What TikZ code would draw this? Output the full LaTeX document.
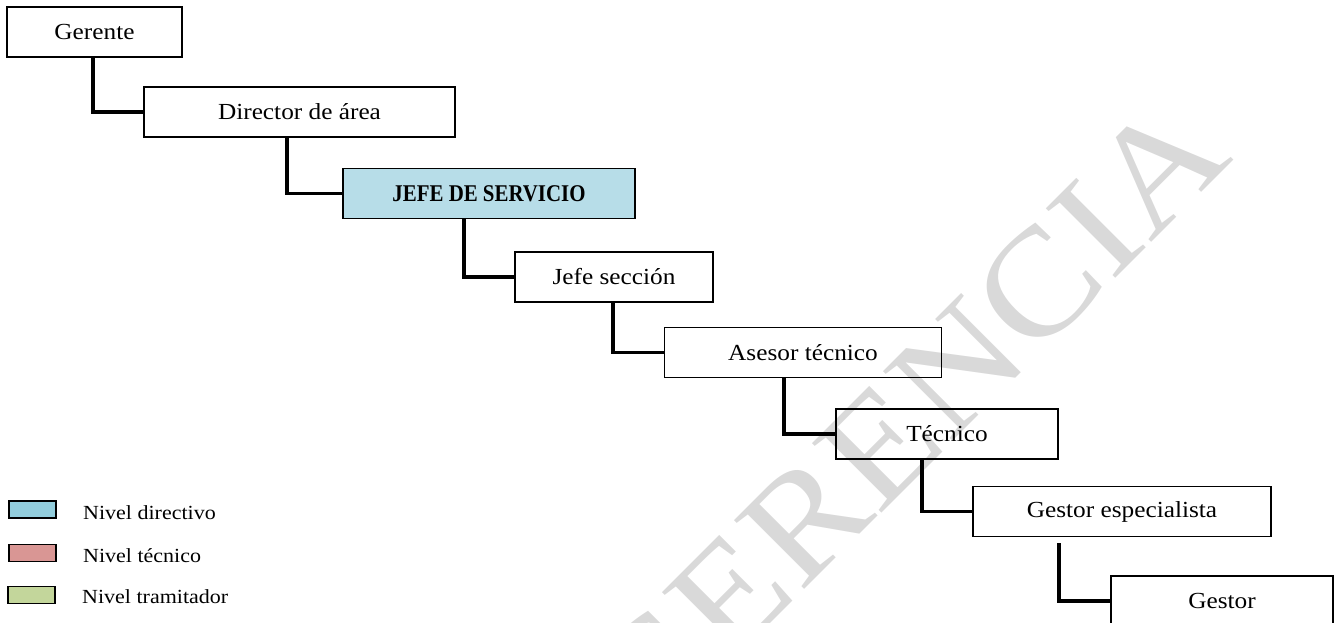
\documentclass[tikz,border=0pt]{standalone}
\usepackage{fontspec}
\setmainfont{Liberation Serif}[FakeStretch=1.1]
\newfontfamily\boldnarrow{Liberation Serif}[FakeStretch=0.87]
\usetikzlibrary{calc}

\definecolor{directivo}{HTML}{92CDDC}
\definecolor{tecnico}{HTML}{D99694}
\definecolor{tramitador}{HTML}{C3D69B}
\definecolor{jefefill}{HTML}{B7DDE8}

\begin{document}
\begin{tikzpicture}[x=1pt,y=-1pt]
            \tikzset{puesto/.style = {draw, line width=1.6pt, minimum height=50pt, inner sep=0pt, font=\fontsize{23}{26}\selectfont}}
            \tikzset{enlace/.style = {line width=3.5pt}}
            \tikzset{clave/.style = {draw, line width=1.6pt, minimum width=47pt, minimum height=17pt, inner sep=0pt}}
            \tikzset{nivel/.style = {anchor=west, inner sep=0pt, font=\fontsize{20}{22}\selectfont}}

            \useasboundingbox (0,0) rectangle (1340,622);

            % marca de agua
            \node[text=black!15, rotate=45, font=\fontsize{150}{150}\selectfont] (marca) at (905,420) {GERENCIA};

            % puestos
            \node[puesto, minimum width=175pt] (ger) at (94.5,32) {Gerente};
            \node[puesto, minimum width=311pt] (dir) at (299.5,112) {Director de área};
            \node[puesto, minimum width=292pt, fill=jefefill, font=\fontsize{24}{26}\boldnarrow\bfseries] (js) at (489,193.5) {JEFE DE SERVICIO};
            \node[puesto, minimum width=198pt] (jsec) at (614,277) {Jefe sección};
            \node[puesto, minimum width=277pt] (ases) at (803,352.5) {Asesor técnico};
            \node[puesto, minimum width=222pt] (tec) at (947,434) {Técnico};
            \node[puesto, minimum width=298pt] (gesp) at (1122,511.5) {Gestor especialista};
            \node[puesto, minimum width=222pt] (gest) at (1222,601) {Gestor};

            % enlaces
            \foreach \a/\b/\x in {ger/dir/93, dir/js/287, js/jsec/464, jsec/ases/613, ases/tec/784, tec/gesp/922}
            {\draw[enlace] (\a.south -| \x,0) |- (\b.west);}
            \draw[enlace] ([yshift=-6pt]gesp.south -| 1059,0) |- (gest.west);

            % leyenda
            \node[clave, fill=directivo] (cdir) at (32.5,509.5) {};
            \node[clave, fill=tecnico] (ctec) at (32.5,553) {};
            \node[clave, fill=tramitador] (ctra) at (31.5,595) {};
            \node[nivel] (ndir) at (83,513) {Nivel directivo};
            \node[nivel] (ntec) at (83,556) {Nivel técnico};
            \node[nivel] (ntra) at (82,597) {Nivel tramitador};

\end{tikzpicture}
\end{document}
